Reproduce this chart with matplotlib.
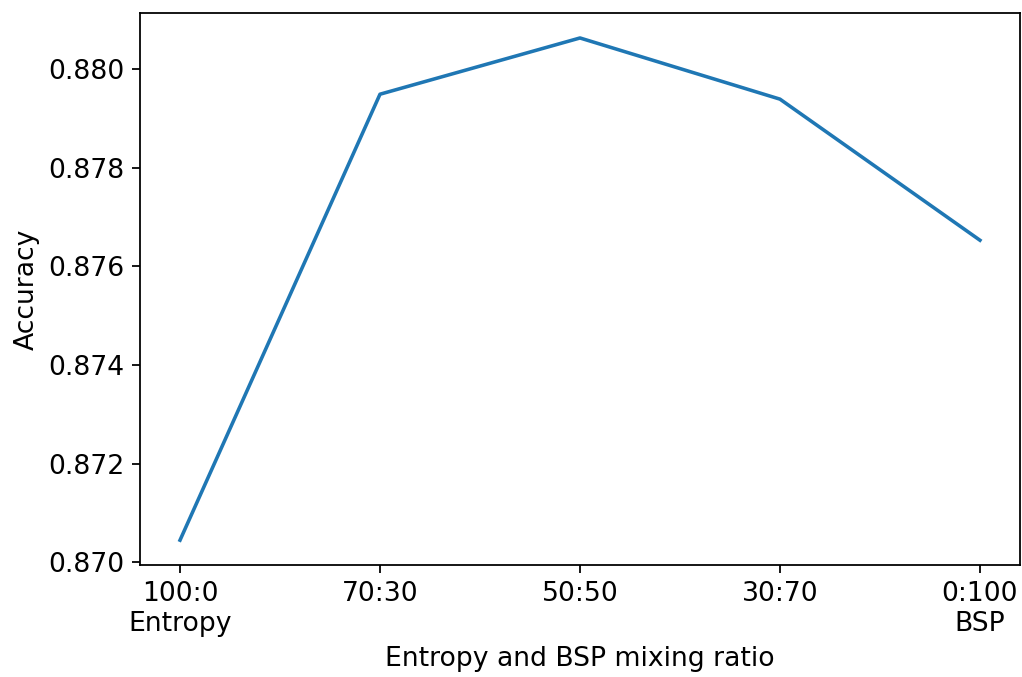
import matplotlib
matplotlib.use("Agg")
import matplotlib.pyplot as plt

# mixing ratio of entropy : BSP and the accuracy reached at each
ratios = ["100:0\nEntropy", "70:30", "50:50", "30:70", "0:100\nBSP"]
accuracy = [0.87045, 0.87949, 0.88063, 0.87939, 0.87653]

plt.rcParams["font.size"] = 12

fig = plt.figure(figsize=(1022 / 160, 677 / 160), dpi=160)
ax = fig.add_axes([0.137, 0.165, 0.861, 0.816])

ax.plot(range(len(ratios)), accuracy, linewidth=1.6)
ax.set_xticks(range(len(ratios)))
ax.set_xticklabels(ratios)
ax.set_yticks([0.870, 0.872, 0.874, 0.876, 0.878, 0.880])
ax.set_xlabel("Entropy and BSP mixing ratio")
ax.set_ylabel("Accuracy")

fig.savefig("out.png", dpi=160)
